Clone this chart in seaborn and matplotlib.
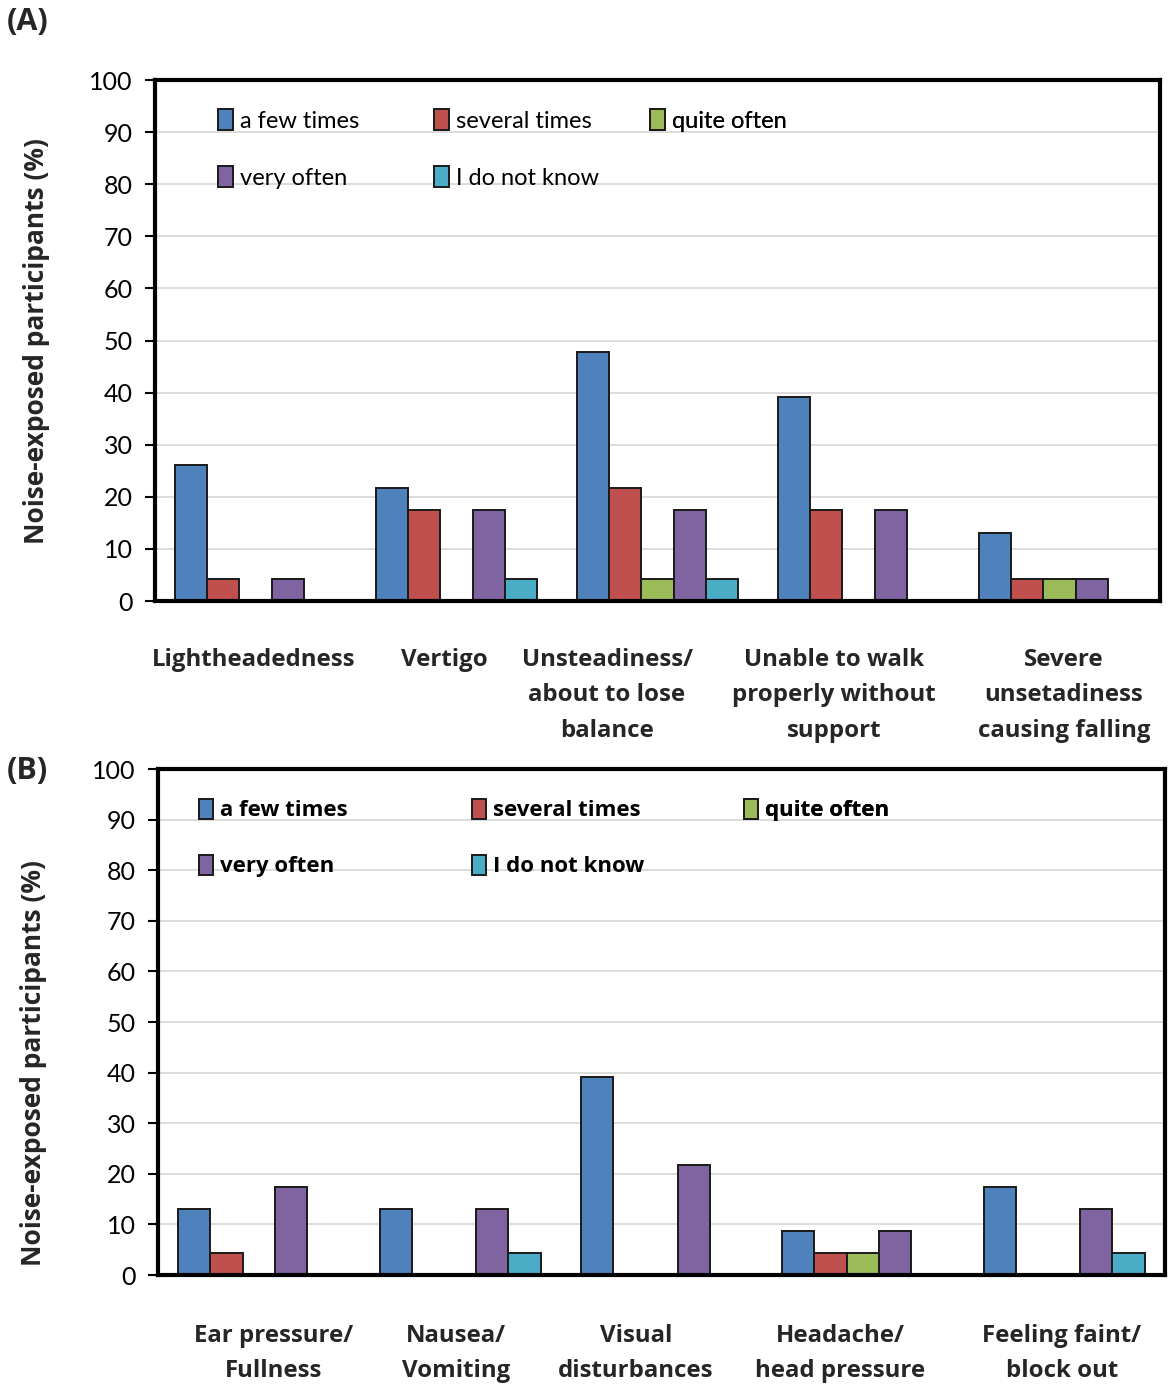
import numpy as np
import pandas as pd
import matplotlib
matplotlib.use("Agg")
import matplotlib.pyplot as plt
import seaborn as sns

# ---- data ----
frequencies = ["a few times", "several times", "quite often", "very often", "I do not know"]

symptoms_a = ["Lightheadedness", "Vertigo", "Unsteadiness/\nabout to lose\nbalance",
              "Unable to walk\nproperly without\nsupport", "Severe\nunsetadiness\ncausing falling"]
a_few_a = [26.1, 21.7, 47.8, 39.1, 13.0]
several_a = [4.3, 17.4, 21.7, 17.4, 4.3]
quite_a = [0.0, 0.0, 4.3, 0.0, 4.3]
very_a = [4.3, 17.4, 17.4, 17.4, 4.3]
dontknow_a = [0.0, 4.3, 4.3, 0.0, 0.0]

symptoms_b = ["Ear pressure/\nFullness", "Nausea/\nVomiting", "Visual\ndisturbances",
              "Headache/\nhead pressure", "Feeling faint/\nblock out"]
a_few_b = [13.0, 13.0, 39.1, 8.7, 17.4]
several_b = [4.3, 0.0, 0.0, 4.3, 0.0]
quite_b = [0.0, 0.0, 0.0, 4.3, 0.0]
very_b = [17.4, 13.0, 21.7, 8.7, 13.0]
dontknow_b = [0.0, 4.3, 0.0, 0.0, 4.3]

yticks = [0, 10, 20, 30, 40, 50, 60, 70, 80, 90, 100]
colors = ["#4F81BD", "#C0504D", "#9BBB59", "#8064A2", "#4BACC6"]


def long_df(symptoms, series):
    rows = []
    for f, vals in zip(frequencies, series):
        for s, v in zip(symptoms, vals):
            rows.append({"symptom": s, "frequency": f, "value": v})
    return pd.DataFrame(rows)


df_a = long_df(symptoms_a, [a_few_a, several_a, quite_a, very_a, dontknow_a])
df_b = long_df(symptoms_b, [a_few_b, several_b, quite_b, very_b, dontknow_b])

sns.set_theme(style="white")
plt.rcParams["font.family"] = ["Lato", "DejaVu Sans"]
BOLD = ["Open Sans", "DejaVu Sans"]

fig = plt.figure(figsize=(11.68, 13.85), dpi=100)
ax_a = fig.add_axes([0.1327, 0.566, 0.8604, 0.3762])
ax_b = fig.add_axes([0.1353, 0.0794, 0.8620, 0.3653])


def draw(ax, df, symptoms, label_pos, legend_bold, col_x, leg_top, lab_sp,
         ylab_y, ylab_x, xpad):
    sns.barplot(data=df, x="symptom", y="value", hue="frequency", order=symptoms,
                hue_order=frequencies, palette=colors, width=0.8, ax=ax,
                saturation=1, edgecolor="#1a1a1a", linewidth=1.4, errorbar=None,
                zorder=2)
    ax.set_ylim(0, 100)
    ax.set_xlim(-0.5, 4.5)
    ax.set_yticks(yticks)
    ax.tick_params(axis="y", labelsize=18, length=7, width=1.5, direction="out",
                   left=True, pad=9, colors="black")
    ax.tick_params(axis="x", length=0, pad=xpad)
    ax.set_xticks(label_pos)
    ax.set_xticklabels(symptoms, fontsize=17.3, fontweight="bold", family=BOLD,
                       linespacing=1.65)
    ax.yaxis.grid(True, color="#D9D9D9", linewidth=1.3, zorder=0)
    ax.set_axisbelow(True)
    for sp in ax.spines.values():
        sp.set_visible(True)
        sp.set_color("black")
        sp.set_linewidth(3)
    ax.set_xlabel("")
    ax.set_ylabel("Noise-exposed participants (%)", fontsize=19, fontweight="bold",
                  family=BOLD)
    ax.yaxis.set_label_coords(ylab_x, ylab_y)

    handles, labels = ax.get_legend_handles_labels()
    if ax.get_legend() is not None:
        ax.get_legend().remove()
    columns = [[0, 3], [1, 4], [2]]
    if legend_bold:
        prop = {"family": BOLD, "weight": "bold", "size": 16}
    else:
        prop = {"family": ["Lato", "DejaVu Sans"], "weight": "normal", "size": 17}
    for cx, idx in zip(col_x, columns):
        leg = ax.legend([handles[i] for i in idx], [labels[i] for i in idx],
                        loc="upper left", bbox_to_anchor=(cx, leg_top),
                        frameon=False, handlelength=0.65, handleheight=1.0,
                        handletextpad=0.3, labelspacing=lab_sp, borderpad=0,
                        borderaxespad=0, prop=prop)
        for t in leg.get_texts():
            t.set_color("black")
        ax.add_artist(leg)


draw(ax_a, df_a, symptoms_a, [-0.007, 0.938, 1.749, 2.878, 4.022], False,
     [0.0627, 0.2776, 0.4925], 0.944, 1.45, 0.5, -0.1045, 33.5)
draw(ax_b, df_b, symptoms_b, [0.076, 0.98, 1.873, 2.886, 3.989], True,
     [0.0407, 0.3118, 0.5819], 0.941, 1.5, 0.419, -0.110, 35)

fig.text(0.006, 0.984, "(A)", fontsize=22, fontweight="bold", family=BOLD,
         ha="left", va="center")
fig.text(0.006, 0.443, "(B)", fontsize=22, fontweight="bold", family=BOLD,
         ha="left", va="center")

fig.savefig("out.png", dpi=100)
